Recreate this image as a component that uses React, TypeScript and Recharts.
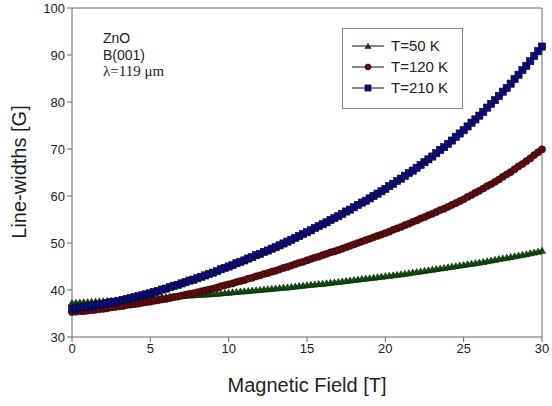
import React from "react";
import { LineChart, Line, XAxis, YAxis, ReferenceLine, Legend } from "recharts";

// magnetic field [T], one point every 0.25 T
const FIELD = [
  0, 0.25, 0.5, 0.75, 1, 1.25, 1.5, 1.75, 2, 2.25, 2.5, 2.75, 3, 3.25, 3.5, 3.75,
  4, 4.25, 4.5, 4.75, 5, 5.25, 5.5, 5.75, 6, 6.25, 6.5, 6.75, 7, 7.25, 7.5, 7.75,
  8, 8.25, 8.5, 8.75, 9, 9.25, 9.5, 9.75, 10, 10.25, 10.5, 10.75, 11, 11.25, 11.5, 11.75,
  12, 12.25, 12.5, 12.75, 13, 13.25, 13.5, 13.75, 14, 14.25, 14.5, 14.75, 15, 15.25, 15.5, 15.75,
  16, 16.25, 16.5, 16.75, 17, 17.25, 17.5, 17.75, 18, 18.25, 18.5, 18.75, 19, 19.25, 19.5, 19.75,
  20, 20.25, 20.5, 20.75, 21, 21.25, 21.5, 21.75, 22, 22.25, 22.5, 22.75, 23, 23.25, 23.5, 23.75,
  24, 24.25, 24.5, 24.75, 25, 25.25, 25.5, 25.75, 26, 26.25, 26.5, 26.75, 27, 27.25, 27.5, 27.75,
  28, 28.25, 28.5, 28.75, 29, 29.25, 29.5, 29.75, 30,
];

// line-widths [G]
const T50 = [
  36.8, 36.85, 36.9, 36.95, 37.0, 37.05, 37.1, 37.15, 37.2, 37.25, 37.3, 37.35, 37.4, 37.45, 37.5, 37.55,
  37.6, 37.68, 37.75, 37.83, 37.9, 37.95, 38.0, 38.05, 38.1, 38.15, 38.2, 38.25, 38.3, 38.35, 38.4, 38.45,
  38.5, 38.55, 38.6, 38.65, 38.7, 38.78, 38.85, 38.93, 39.0, 39.08, 39.15, 39.23, 39.3, 39.38, 39.45, 39.53,
  39.6, 39.68, 39.75, 39.83, 39.9, 39.98, 40.05, 40.13, 40.2, 40.3, 40.4, 40.5, 40.6, 40.68, 40.75, 40.83,
  40.9, 41.0, 41.1, 41.2, 41.3, 41.4, 41.5, 41.6, 41.7, 41.8, 41.9, 42.0, 42.1, 42.2, 42.3, 42.4,
  42.5, 42.6, 42.7, 42.8, 42.9, 43.03, 43.15, 43.28, 43.4, 43.53, 43.65, 43.78, 43.9, 44.03, 44.15, 44.28,
  44.4, 44.53, 44.65, 44.78, 44.9, 45.03, 45.15, 45.28, 45.4, 45.55, 45.7, 45.85, 46.0, 46.15, 46.3, 46.45,
  46.6, 46.75, 46.9, 47.05, 47.2, 47.38, 47.55, 47.73, 47.9,
];

const T120 = [
  35.3, 35.4, 35.5, 35.5, 35.6, 35.7, 35.8, 35.9, 36.0, 36.1, 36.3, 36.4, 36.5, 36.6, 36.8, 36.9,
  37.0, 37.1, 37.3, 37.4, 37.5, 37.7, 37.8, 38.0, 38.1, 38.3, 38.5, 38.6, 38.8, 39.0, 39.2, 39.3,
  39.5, 39.7, 39.9, 40.1, 40.3, 40.5, 40.8, 41.0, 41.2, 41.4, 41.7, 41.9, 42.1, 42.4, 42.6, 42.9,
  43.1, 43.4, 43.6, 43.9, 44.1, 44.4, 44.7, 44.9, 45.2, 45.5, 45.8, 46.0, 46.3, 46.6, 46.9, 47.1,
  47.4, 47.7, 48.0, 48.2, 48.5, 48.8, 49.1, 49.4, 49.7, 50.0, 50.3, 50.6, 50.9, 51.2, 51.5, 51.8,
  52.1, 52.4, 52.8, 53.1, 53.4, 53.8, 54.1, 54.5, 54.8, 55.2, 55.5, 55.9, 56.2, 56.6, 57.0, 57.3,
  57.7, 58.1, 58.5, 58.9, 59.3, 59.8, 60.2, 60.7, 61.1, 61.6, 62.1, 62.5, 63.0, 63.5, 64.1, 64.6,
  65.1, 65.7, 66.3, 66.8, 67.4, 68.0, 68.7, 69.3, 69.9,
];

const T210 = [
  36.0, 36.1, 36.3, 36.4, 36.5, 36.6, 36.8, 36.9, 37.0, 37.2, 37.4, 37.5, 37.7, 37.9, 38.1, 38.3,
  38.5, 38.7, 38.9, 39.1, 39.3, 39.6, 39.8, 40.1, 40.3, 40.6, 40.9, 41.1, 41.4, 41.7, 42.0, 42.2,
  42.5, 42.8, 43.1, 43.4, 43.7, 44.0, 44.4, 44.7, 45.0, 45.3, 45.7, 46.0, 46.3, 46.7, 47.0, 47.4,
  47.7, 48.1, 48.4, 48.8, 49.1, 49.5, 49.9, 50.3, 50.7, 51.1, 51.5, 51.9, 52.3, 52.7, 53.2, 53.6,
  54.0, 54.4, 54.9, 55.3, 55.7, 56.2, 56.7, 57.1, 57.6, 58.1, 58.6, 59.0, 59.5, 60.0, 60.5, 61.0,
  61.5, 62.1, 62.6, 63.2, 63.7, 64.3, 64.9, 65.4, 66.0, 66.6, 67.2, 67.8, 68.4, 69.1, 69.8, 70.4,
  71.1, 71.8, 72.6, 73.3, 74.0, 74.8, 75.6, 76.3, 77.1, 77.9, 78.8, 79.6, 80.4, 81.3, 82.2, 83.0,
  83.9, 84.9, 85.8, 86.8, 87.7, 88.7, 89.8, 90.8, 91.8,
];

const X_TICKS = [0, 5, 10, 15, 20, 25, 30];
const Y_TICKS = [30, 40, 50, 60, 70, 80, 90, 100];

const SERIES = [
  { key: "t50", name: "T=50 K", line: "#22dd22", fill: "#124a12", shape: "triangle" },
  { key: "t120", name: "T=120 K", line: "#b01010", fill: "#5c0c0c", shape: "circle" },
  { key: "t210", name: "T=210 K", line: "#1010c0", fill: "#0c0c78", shape: "square" },
];

const data = FIELD.map((f, i) => ({ field: f, t50: T50[i], t120: T120[i], t210: T210[i] }));

const SANS = "'Liberation Sans', Arial, sans-serif";

function marker(shape: string, cx: number, cy: number, fill: string, key?: string | number, s = 1) {
  if (shape === "triangle") {
    return (
      <polygon
        key={key}
        points={`${cx},${cy - 5.5 * s} ${cx - 3.6 * s},${cy + 0.5 * s} ${cx + 3.6 * s},${cy + 0.5 * s}`}
        fill={fill}
        stroke="#0a200a"
        strokeWidth={0.6}
      />
    );
  }
  if (shape === "circle") {
    return <circle key={key} cx={cx} cy={cy} r={3.6 * s} fill={fill} stroke="#2a0505" strokeWidth={0.6} />;
  }
  return (
    <rect
      key={key}
      x={cx - 3.6 * s}
      y={cy - 3.6 * s}
      width={7.2 * s}
      height={7.2 * s}
      fill={fill}
      stroke="#05052a"
      strokeWidth={0.6}
    />
  );
}

function LegendBox() {
  return (
    <div
      style={{
        width: 119,
        height: 73,
        border: "1px solid #888",
        background: "#fff",
        boxSizing: "content-box",
        fontFamily: SANS,
        fontSize: 15,
        color: "#222",
        paddingTop: 6,
      }}
    >
      {SERIES.map((s) => (
        <div key={s.key} style={{ display: "flex", alignItems: "center", height: 21 }}>
          <svg width={46} height={14} style={{ flex: "none" }}>
            <line x1={9} y1={7} x2={41} y2={7} stroke="#111" strokeWidth={1} />
            {marker(s.shape, 25, s.shape === "triangle" ? 9 : 7, s.fill, undefined, 0.85)}
          </svg>
          <span style={{ marginLeft: 2 }}>{s.name}</span>
        </div>
      ))}
    </div>
  );
}

export default function App() {
  return (
    <div style={{ position: "relative", width: 552, height: 406, background: "#fff" }}>
      <style>{"body{margin:0}"}</style>
      <LineChart width={552} height={406} data={data} margin={{ top: 8, right: 10, bottom: 39, left: 0 }}>
        <XAxis
          dataKey="field"
          type="number"
          domain={[0, 30]}
          ticks={X_TICKS}
          height={30}
          stroke="#666"
          tickSize={5}
          tick={{ fill: "#222", fontSize: 13, fontFamily: SANS }}
        />
        <YAxis
          type="number"
          domain={[30, 100]}
          ticks={Y_TICKS}
          width={72}
          stroke="#666"
          tickSize={5}
          tick={{ fill: "#222", fontSize: 13, fontFamily: SANS }}
        />
        <ReferenceLine y={100} stroke="#666" />
        <ReferenceLine x={30} stroke="#666" />
        {SERIES.map((s) => (
          <Line
            key={s.key}
            dataKey={s.key}
            name={s.name}
            type="linear"
            stroke={s.line}
            strokeWidth={2}
            isAnimationActive={false}
            dot={(p: any) => marker(s.shape, p.cx, p.cy, s.fill, `${s.key}-${p.index}`)}
            activeDot={false}
          />
        ))}
        <Legend
          layout="vertical"
          align="center"
          verticalAlign="middle"
          wrapperStyle={{ position: "absolute", left: 342, top: 28, width: 121 }}
          content={() => <LegendBox />}
        />
      </LineChart>
      <div
        style={{
          position: "absolute",
          left: 103,
          top: 30,
          fontFamily: SANS,
          fontSize: 14,
          lineHeight: "16.5px",
          color: "#222",
        }}
      >
        <div>ZnO</div>
        <div>B(001)</div>
        <div style={{ fontFamily: "'Liberation Serif', 'Times New Roman', serif", fontSize: 15 }}>λ=119 μm</div>
      </div>
      <div
        style={{
          position: "absolute",
          left: 307,
          top: 385,
          transform: "translate(-50%, -50%)",
          fontFamily: SANS,
          fontSize: 20,
          color: "#222",
          whiteSpace: "nowrap",
        }}
      >
        Magnetic Field [T]
      </div>
      <div
        style={{
          position: "absolute",
          left: 19,
          top: 172,
          transform: "translate(-50%, -50%) rotate(-90deg)",
          fontFamily: SANS,
          fontSize: 20,
          color: "#222",
          whiteSpace: "nowrap",
        }}
      >
        Line-widths [G]
      </div>
    </div>
  );
}
